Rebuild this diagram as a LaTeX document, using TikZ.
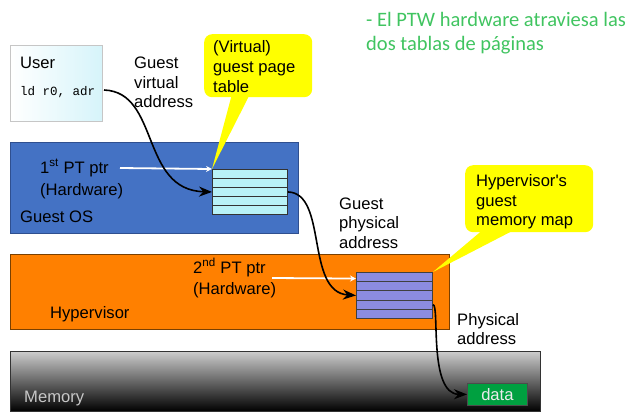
\documentclass[tikz,border=0pt]{standalone}
\usepackage{fontspec}
\setmainfont{Liberation Sans}
\setmonofont{Liberation Mono}
\newfontfamily\greenfont{Carlito}
\usetikzlibrary{arrows.meta}
\definecolor{osblue}{HTML}{4472C4}
\definecolor{osborder}{HTML}{2F4F8F}
\definecolor{hvorange}{HTML}{FF8000}
\definecolor{hvborder}{HTML}{7A4000}
\definecolor{ptafill}{HTML}{B8F2F7}
\definecolor{ptbfill}{HTML}{8C8CE0}
\definecolor{callyellow}{HTML}{FFFF00}
\definecolor{datagreen}{HTML}{00A040}
\definecolor{notegreen}{HTML}{40C460}
\definecolor{userfill}{HTML}{D6F4FA}
\begin{document}
\begin{tikzpicture}[x=1pt,y=-1pt,
  lbl/.style={anchor=base west, inner sep=0, font=\fontsize{16.6}{20}\selectfont},
  notelbl/.style={anchor=base west, inner sep=0, text=notegreen, font=\greenfont\fontsize{20.5}{23}\selectfont},
  panel/.style={anchor=north west, inner sep=0, line width=0.8pt},
  rowa/.style={anchor=north west, inner sep=0, minimum width=75, minimum height=9, fill=ptafill, draw=black!80, line width=0.9pt},
  rowb/.style={anchor=north west, inner sep=0, minimum width=76, minimum height=9.2, fill=ptbfill, draw=black!75, line width=0.9pt},
  callbox/.style={anchor=north west, inner sep=0, fill=callyellow, rounded corners=8pt},
  flow/.style={line width=1.6pt, -{Stealth[length=13pt,width=10pt]}},
  ptr/.style={white, line width=1.8pt, -{Stealth[length=6pt,width=6pt]}}
]
\useasboundingbox (0,0) rectangle (636,413);

% green note
\node[notelbl] (note1) at (366,26) {- El PTW hardware atraviesa las};
\node[notelbl] (note2) at (366,50) {dos tablas de páginas};

% user box
\node[panel, minimum width=92, minimum height=76, left color=white, right color=userfill, draw=gray!45] (user) at (10,45) {};
\node[lbl] (usert) at (20,68) {User};
\node[anchor=base west, inner sep=0, font=\ttfamily\fontsize{12.5}{14}\selectfont] (ld) at (20,95) {ld r0, adr};
\coordinate (ldend) at (104,90);

% guest virtual address
\node[lbl] (gva1) at (134,68) {Guest};
\node[lbl] (gva2) at (134,88) {virtual};
\node[lbl] (gva3) at (134,107) {address};

% Guest OS
\node[panel, minimum width=288, minimum height=91, fill=osblue, draw=osborder] (guestos) at (10,142) {};
\node[lbl] (gos) at (20,222) {Guest OS};
\node[lbl] (pt1a) at (40,173) {1\textsuperscript{st} PT ptr};
\node[lbl] (pt1b) at (40,195) {(Hardware)};

% first page table
\foreach \i in {1,...,5} {
  \node[rowa] (pa\i) at (212,{169+9*(\i-1)}) {};
}

% callout 1
\fill[callyellow] (232,94) -- (pa1.north west) -- (250,94) -- cycle;
\node[callbox, minimum width=108, minimum height=63] (call1) at (204,34) {};
\node[lbl] (c1a) at (213,52) {(Virtual)};
\node[lbl] (c1b) at (213,72) {guest page};
\node[lbl] (c1c) at (213,92) {table};

% white pointer 1
\coordinate (p1s) at (120,168);
\draw[ptr] (p1s) -- (pa1.north west);

% guest physical address
\node[lbl] (gpa1) at (339,209) {Guest};
\node[lbl] (gpa2) at (339,228) {physical};
\node[lbl] (gpa3) at (339,248) {address};

% Hypervisor
\node[panel, minimum width=439, minimum height=75, fill=hvorange, draw=hvborder] (hyper) at (10,254) {};
\node[lbl] (hv) at (50,318) {Hypervisor};
\node[lbl] (pt2a) at (193,273) {2\textsuperscript{nd} PT ptr};
\node[lbl] (pt2b) at (193,294) {(Hardware)};

% second page table
\foreach \i in {1,...,5} {
  \node[rowb] (pb\i) at (356,{272+9.2*(\i-1)}) {};
}

% callout 2
\fill[callyellow] (485,228) -- (pb1.north east) -- (518,228) -- cycle;
\node[callbox, minimum width=128, minimum height=67] (call2) at (465,165) {};
\node[lbl] (c2a) at (476,186) {Hypervisor\textquotesingle s};
\node[lbl] (c2b) at (476,206) {guest};
\node[lbl] (c2c) at (476,225) {memory map};

% white pointer 2
\coordinate (p2s) at (272,278);
\draw[ptr] (p2s) -- ([yshift=-1.5pt]pb1.west);

% physical address
\node[lbl] (pa1t) at (457,325) {Physical};
\node[lbl] (pa2t) at (457,344) {address};

% memory
\node[panel, minimum width=530, minimum height=60, top color=gray!40, bottom color=black, draw=black!80] (mem) at (10,351) {};
\node[lbl, text=white!78!black] (memt) at (24,402) {Memory};
\node[anchor=north west, inner sep=0, minimum width=60, minimum height=22, fill=datagreen, draw=black!70, line width=0.8pt] (data) at (467,383) {};
\node[anchor=center, inner sep=0, text=white!92!black, font=\fontsize{16.6}{20}\selectfont] (datat) at (data.center) {data};

% connectors
\draw[flow] (ldend) .. controls (160,92) and (140,190) .. (pa3.west);
\draw[flow] (pa3.east) .. controls (328,193) and (305,292) .. (pb3.west);
\draw[flow] (pb4.east) .. controls (440,304) and (428,394) .. (data.west);
\end{tikzpicture}
\end{document}
